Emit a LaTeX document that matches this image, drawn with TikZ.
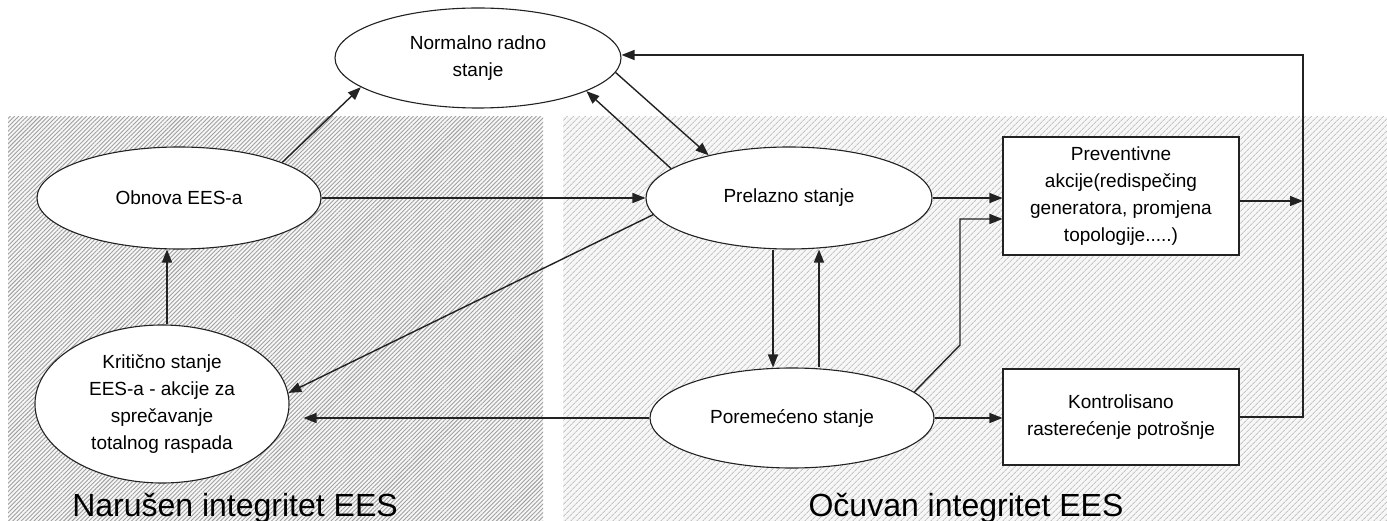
\documentclass[tikz,border=0pt]{standalone}
\usepackage{fontspec}
\setmainfont{Liberation Sans}
\usetikzlibrary{shapes.geometric,arrows.meta,patterns.meta,calc}
\definecolor{lnc}{HTML}{222222}
\definecolor{hatchA}{HTML}{A0A0A0}
\definecolor{hatchB}{HTML}{C4C4C4}
\begin{document}
\begin{tikzpicture}[x=1pt,y=-1pt,
  every node/.style={font=\fontsize{19}{27}\selectfont, text=black},
  stell/.style={ellipse, draw=lnc, line width=1.1pt, fill=white, inner sep=0pt, align=center},
  stbox/.style={rectangle, draw=lnc, line width=1.1pt, fill=white, inner sep=0pt, align=center},
  conn/.style={draw=lnc, line width=1.4pt, -{Triangle[length=13pt,width=10pt]}},
  biglabel/.style={font=\fontsize{32}{36}\selectfont, anchor=base}
]
\useasboundingbox (0,0) rectangle (1387,521);
\fill[white] (0,0) rectangle (1387,521);
% hatched regions
\fill[gray!6] (8,117) rectangle (543,521);
\fill[pattern={Lines[angle=45,distance=3pt,line width=0.9pt]}, pattern color=hatchA] (8,117) rectangle (543,521);
\fill[gray!6] (563,117) rectangle (1387,521);
\fill[pattern={Lines[angle=45,distance=4pt,line width=1pt]}, pattern color=hatchB] (563,117) rectangle (1387,521);

% nodes
\node[stell, minimum width=286pt, minimum height=100pt] (norm) at (478,58) {Normalno radno\\stanje};
\node[stell, minimum width=284pt, minimum height=102pt] (obn) at (179,198) {Obnova EES-a};
\node[stell, minimum width=286pt, minimum height=102pt] (prel) at (789,198) {Prelazno stanje};
\node[stell, minimum width=254pt, minimum height=158pt] (krit) at (162,404) {Kritično stanje\\EES-a - akcije za\\sprečavanje\\totalnog raspada};
\node[stell, minimum width=284pt, minimum height=100pt] (por) at (792,418) {Poremećeno stanje};
\node[stbox, minimum width=236pt, minimum height=118pt] (prev) at (1121,196) {Preventivne\\akcije(redispečing\\generatora, promjena\\topologije.....)};
\node[stbox, minimum width=236pt, minimum height=96pt] (kont) at (1121,417) {Kontrolisano\\rasterećenje potrošnje};

% labels
\node[biglabel] (lab1) at (235,516) {Narušen integritet EES};
\node[biglabel] (lab2) at (966,516) {Očuvan integritet EES};

% helper coordinates
\coordinate (bend) at (960,345);
\coordinate (bustop) at (1303,55);
\coordinate (busmid) at (1303,201);

% connectors
\draw[conn] (obn.19) -- (norm.194);
\draw[conn] (norm.354) -- (prel.152);
\draw[conn] (prel.166) -- (norm.343);
\draw[conn] (obn.east) -- (prel.west);
\draw[conn] ([xshift=5pt]krit.north) -- ([xshift=5pt]krit.north |- obn.south);
\draw[conn] (prel.187) -- (krit.5);
\draw[conn, shorten >=14pt] (por.west) -- (krit.east |- por.west);
\draw[conn] ([xshift=-16pt]prel.south) -- ([xshift=-19pt]por.north);
\draw[conn] ([xshift=27pt]por.north) -- ([xshift=30pt]prel.south);
\draw[conn] (prel.east) -- (prel.east -| prev.west);
\draw[conn] (por.12) -- (bend) |- ([yshift=-23pt]prev.west);
\draw[conn] (por.east) -- (por.east -| kont.west);
\draw[conn] ([yshift=-5pt]prev.east) -- (busmid);
\draw[conn] (kont.east) -| (bustop) -- (norm.east |- bustop);
\end{tikzpicture}
\end{document}
